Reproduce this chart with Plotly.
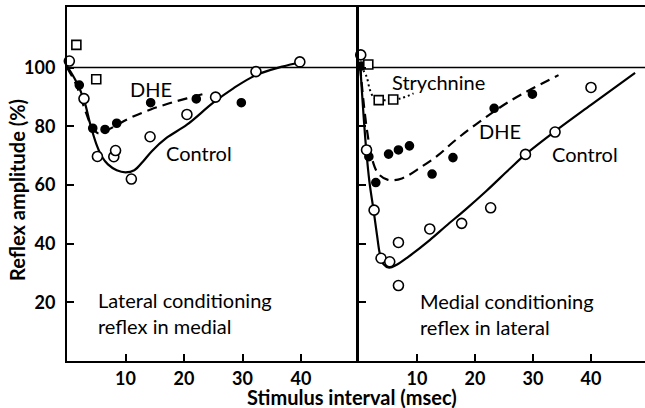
import plotly.graph_objects as go

# ---------------- data ----------------
# Left panel: lateral conditioning reflex in medial
L_ctrl_x = [0.4, 2.9, 5.2, 8.0, 8.3, 11.0, 14.2, 20.5, 25.4, 32.3, 39.8]
L_ctrl_y = [102.2, 89.4, 69.7, 69.6, 71.7, 62.0, 76.4, 84.0, 89.9, 98.6, 101.9]
L_dhe_x = [2.1, 4.4, 6.5, 8.5, 14.3, 22.1, 29.8]
L_dhe_y = [94.0, 79.3, 78.9, 81.0, 88.0, 89.3, 88.0]
L_sq_x = [1.6, 5.0]
L_sq_y = [107.7, 96.0]
# hand-drawn fitted curves
L_ctrl_curve_x = [0.0, 1.5, 2.9, 4.0, 5.0, 6.0, 7.0, 8.5, 10.0, 11.5, 13.0, 14.5, 17.0, 20.5, 25.0, 28.5, 32.3, 36.8, 40.0]
L_ctrl_curve_y = [100.5, 95.5, 89.0, 80.5, 74.0, 69.5, 67.0, 65.0, 64.3, 65.0, 68.0, 71.5, 76.0, 80.5, 88.0, 93.0, 97.4, 100.3, 101.8]
L_dhe_curve_x = [0.0, 1.5, 3.0, 4.2, 5.3, 6.5, 8.5, 11.0, 14.3, 17.5, 20.5, 24.2]
L_dhe_curve_y = [100.0, 94.5, 86.0, 80.0, 77.6, 78.2, 80.4, 83.0, 85.7, 87.8, 89.5, 91.4]

# Right panel: medial conditioning reflex in lateral
R_ctrl_x = [0.3, 1.3, 2.6, 3.8, 5.3, 6.8, 6.8, 12.2, 17.7, 22.7, 28.7, 33.8, 40.0]
R_ctrl_y = [104.3, 71.9, 51.4, 35.0, 33.8, 40.4, 25.7, 45.0, 46.9, 52.2, 70.4, 78.0, 93.2]
R_dhe_x = [0.4, 1.7, 2.9, 5.1, 6.8, 8.7, 12.6, 16.2, 23.3, 29.9]
R_dhe_y = [100.5, 69.6, 60.8, 70.5, 71.9, 73.3, 63.7, 69.3, 86.1, 90.9]
R_sq_x = [1.6, 3.4, 5.9]
R_sq_y = [101.0, 88.9, 89.1]
R_ctrl_curve_x = [0.2, 0.6, 1.2, 1.8, 2.5, 3.1, 3.6, 4.2, 5.2, 6.5, 8.5, 12.2, 15.0, 18.3, 22.0, 26.0, 28.7, 33.8, 40.0, 47.6]
R_ctrl_curve_y = [101.0, 89.0, 73.0, 61.0, 51.5, 43.0, 36.5, 33.0, 31.8, 32.8, 35.5, 41.2, 46.0, 51.5, 58.0, 65.5, 70.4, 78.3, 87.3, 98.2]
R_dhe_curve_x = [0.2, 0.8, 1.5, 2.3, 3.3, 5.0, 7.4, 10.8, 13.7, 16.3, 20.0, 26.3, 34.4]
R_dhe_curve_y = [100.5, 88.0, 77.0, 68.5, 63.9, 61.7, 62.2, 66.2, 70.2, 74.7, 80.4, 88.9, 97.4]
R_str_curve_x = [0.3, 1.3, 1.9, 2.6, 3.4, 5.9, 7.4, 9.4]
R_str_curve_y = [100.5, 96.9, 92.3, 89.6, 88.9, 89.1, 89.6, 91.2]

y_ticks = [20, 40, 60, 80, 100]
x_ticks = [10, 20, 30, 40]

FONT = "Lato"
BLACK = "black"

fig = go.Figure()

def line(x, y, xa, ya, dash, w=2.2):
    fig.add_trace(go.Scatter(x=x, y=y, xaxis=xa, yaxis=ya, mode="lines",
                             line=dict(color=BLACK, width=w, dash=dash, shape="spline", smoothing=1.0),
                             hoverinfo="skip", showlegend=False, cliponaxis=False))

def marks(x, y, xa, ya, symbol, fill, size):
    fig.add_trace(go.Scatter(x=x, y=y, xaxis=xa, yaxis=ya, mode="markers",
                             marker=dict(symbol=symbol, size=size, color=fill,
                                         line=dict(color=BLACK, width=1.6)),
                             showlegend=False, cliponaxis=False))

# left panel
line(L_ctrl_curve_x, L_ctrl_curve_y, "x", "y", "solid")
line(L_dhe_curve_x, L_dhe_curve_y, "x", "y", "10px,6px")
marks(L_dhe_x, L_dhe_y, "x", "y", "circle", BLACK, 8)
marks(L_ctrl_x, L_ctrl_y, "x", "y", "circle", "white", 10)
marks(L_sq_x, L_sq_y, "x", "y", "square", "white", 9)

# right panel
line(R_ctrl_curve_x, R_ctrl_curve_y, "x2", "y2", "solid")
line(R_dhe_curve_x, R_dhe_curve_y, "x2", "y2", "10px,6px")
line(R_str_curve_x, R_str_curve_y, "x2", "y2", "2px,3px", w=2)
marks(R_dhe_x, R_dhe_y, "x2", "y2", "circle", BLACK, 8)
marks(R_ctrl_x, R_ctrl_y, "x2", "y2", "circle", "white", 10)
marks(R_sq_x, R_sq_y, "x2", "y2", "square", "white", 9)

SPLIT = 292 / 578
tickfont = dict(family=FONT, size=18, color=BLACK, weight="bold")
ax_common = dict(showgrid=False, zeroline=False, showline=True, linecolor=BLACK,
                 linewidth=2, ticks="inside", ticklen=7, tickwidth=2, tickcolor=BLACK,
                 tickfont=tickfont)

fig.update_layout(
    width=645, height=408,
    margin=dict(l=67, r=0, t=7, b=47),
    paper_bgcolor="white", plot_bgcolor="white",
    font=dict(family=FONT, color=BLACK),
    xaxis=dict(domain=[0, SPLIT], range=[0, 292 / 5.85], tickvals=x_ticks,
               mirror=True, anchor="y", ticklabelstandoff=0, **ax_common),
    yaxis=dict(domain=[0, 1], range=[0, 354 / 2.935], tickvals=y_ticks,
               anchor="x", ticklabelstandoff=6, **ax_common),
    xaxis2=dict(domain=[SPLIT, 1], range=[0, 286 / 5.8], tickvals=x_ticks,
                mirror=True, anchor="y2", ticklabelstandoff=0, **ax_common),
    yaxis2=dict(domain=[0, 1], range=[0, 354 / 2.935], tickvals=y_ticks,
                anchor="x2", showticklabels=False, **ax_common),
)
fig.update_layout(yaxis2_linewidth=3)

# 100 % reference line across both panels
fig.add_shape(type="line", xref="paper", yref="y", x0=0, x1=1, y0=100, y1=100,
              line=dict(color=BLACK, width=1.6), layer="below")

lab = dict(family=FONT, size=20, color=BLACK)
annos = [
    dict(x=14.3, y=92.8, xref="x", yref="y", text="DHE"),
    dict(x=22.5, y=71.0, xref="x", yref="y", text="Control"),
    dict(x=13.7, y=94.9, xref="x2", yref="y2", text="Strychnine"),
    dict(x=24.3, y=78.4, xref="x2", yref="y2", text="DHE"),
    dict(x=38.9, y=70.4, xref="x2", yref="y2", text="Control"),
]
for a in annos:
    fig.add_annotation(**a, showarrow=False, font=lab, xanchor="center", yanchor="middle")

fig.add_annotation(x=4.9, y=16.5, xref="x", yref="y", text="Lateral conditioning<br>reflex in medial",
                   showarrow=False, font=lab, xanchor="left", yanchor="middle", align="left")
fig.add_annotation(x=10.2, y=16.0, xref="x2", yref="y2", text="Medial conditioning<br>reflex in lateral",
                   showarrow=False, font=lab, xanchor="left", yanchor="middle", align="left")

# axis titles
title_font = dict(family=FONT, size=20, color=BLACK, weight="bold")
fig.add_annotation(x=(352 - 67) / 578, y=(361 - 397) / 354, xref="paper", yref="paper",
                   text="Stimulus interval (msec)", showarrow=False,
                   font=title_font, xanchor="center", yanchor="middle")
fig.add_annotation(x=(17 - 67) / 578, y=(361 - 190) / 354, xref="paper", yref="paper",
                   text="Reflex amplitude (%)", showarrow=False, textangle=-90,
                   font=title_font, xanchor="center", yanchor="middle")

fig.write_html("out.html", config={"displayModeBar": False},
               post_script="document.body.style.margin='0px';document.body.style.overflow='hidden';")
